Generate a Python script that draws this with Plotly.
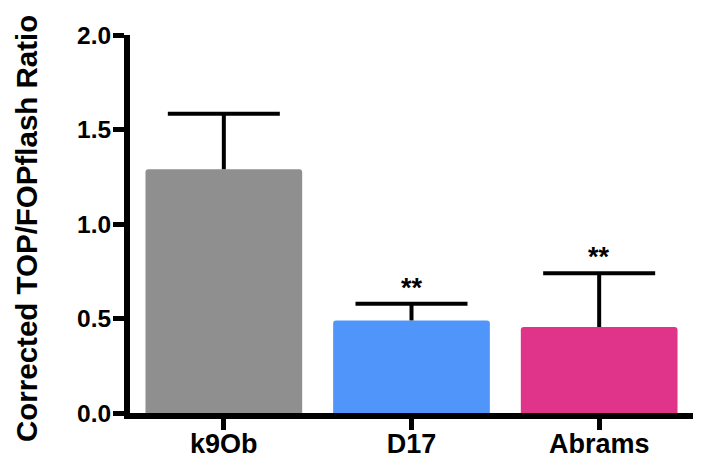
import plotly.graph_objects as go

categories = ["k9Ob", "D17", "Abrams"]
means = [1.29, 0.49, 0.455]
errors_upper = [0.293, 0.088, 0.285]
significance = ["", "**", "**"]
bar_colors = ["#8F8F8F", "#4F95FA", "#E0338A"]
y_ticks = [0.0, 0.5, 1.0, 1.5, 2.0]
y_tick_labels = ["0.0", "0.5", "1.0", "1.5", "2.0"]
y_title = "Corrected TOP/FOPflash Ratio"

FONT = "Liberation Sans, Arial, sans-serif"

tops = [m + e for m, e in zip(means, errors_upper)]

fig = go.Figure()
fig.add_trace(go.Bar(
    x=categories,
    y=means,
    marker=dict(color=bar_colors, line=dict(width=0), cornerradius=3),
    error_y=dict(type="data", symmetric=False, array=errors_upper,
                 arrayminus=[0] * len(means), color="black", thickness=4, width=0),
    showlegend=False,
))
# caps of the upper error bars
fig.add_trace(go.Scatter(
    x=categories, y=tops, mode="markers",
    marker=dict(symbol="line-ew", size=80, color="black",
                line=dict(width=4, color="black")),
    showlegend=False, hoverinfo="skip", cliponaxis=False,
))

for cat, t, s in zip(categories, tops, significance):
    if s:
        fig.add_annotation(x=cat, y=t, text=f"<b>{s}</b>", showarrow=False,
                           yanchor="middle", yshift=16,
                           font=dict(family=FONT, size=27, color="black"))

fig.add_annotation(xref="paper", yref="paper", x=0, y=0.5, xshift=-104, yshift=-5,
                   text=f"<b>{y_title}</b>", textangle=-90, showarrow=False,
                   xanchor="center", yanchor="middle", borderpad=0,
                   font=dict(family=FONT, size=29.5, color="black"))

# page body has an 8px margin, so the figure is sized to fit the 702x463 window
fig.update_layout(
    width=694, height=455,
    margin=dict(l=122, r=9, t=27, b=50, autoexpand=False),
    paper_bgcolor="white", plot_bgcolor="white",
    bargap=0.165,
    font=dict(family=FONT, color="black"),
)
fig.update_xaxes(
    range=[-0.5, 2.5], showline=True, linewidth=6, linecolor="black",
    ticks="outside", ticklen=11, tickwidth=5, tickcolor="black",
    tickfont=dict(family=FONT, size=27, color="black"), ticklabelstandoff=-9,
    tickprefix="<b>", ticksuffix="</b>", showgrid=False, zeroline=False,
    automargin=False,
)
fig.update_yaxes(
    range=[0, 2.0], tickvals=y_ticks, ticktext=[f"<b>{t}</b>" for t in y_tick_labels],
    showline=True, linewidth=6, linecolor="black",
    ticks="outside", ticklen=11, tickwidth=5, tickcolor="black",
    tickfont=dict(family=FONT, size=24.5, color="black"), ticklabelstandoff=-3,
    showgrid=False, zeroline=False, automargin=False,
)

fig.write_html("out.html")
